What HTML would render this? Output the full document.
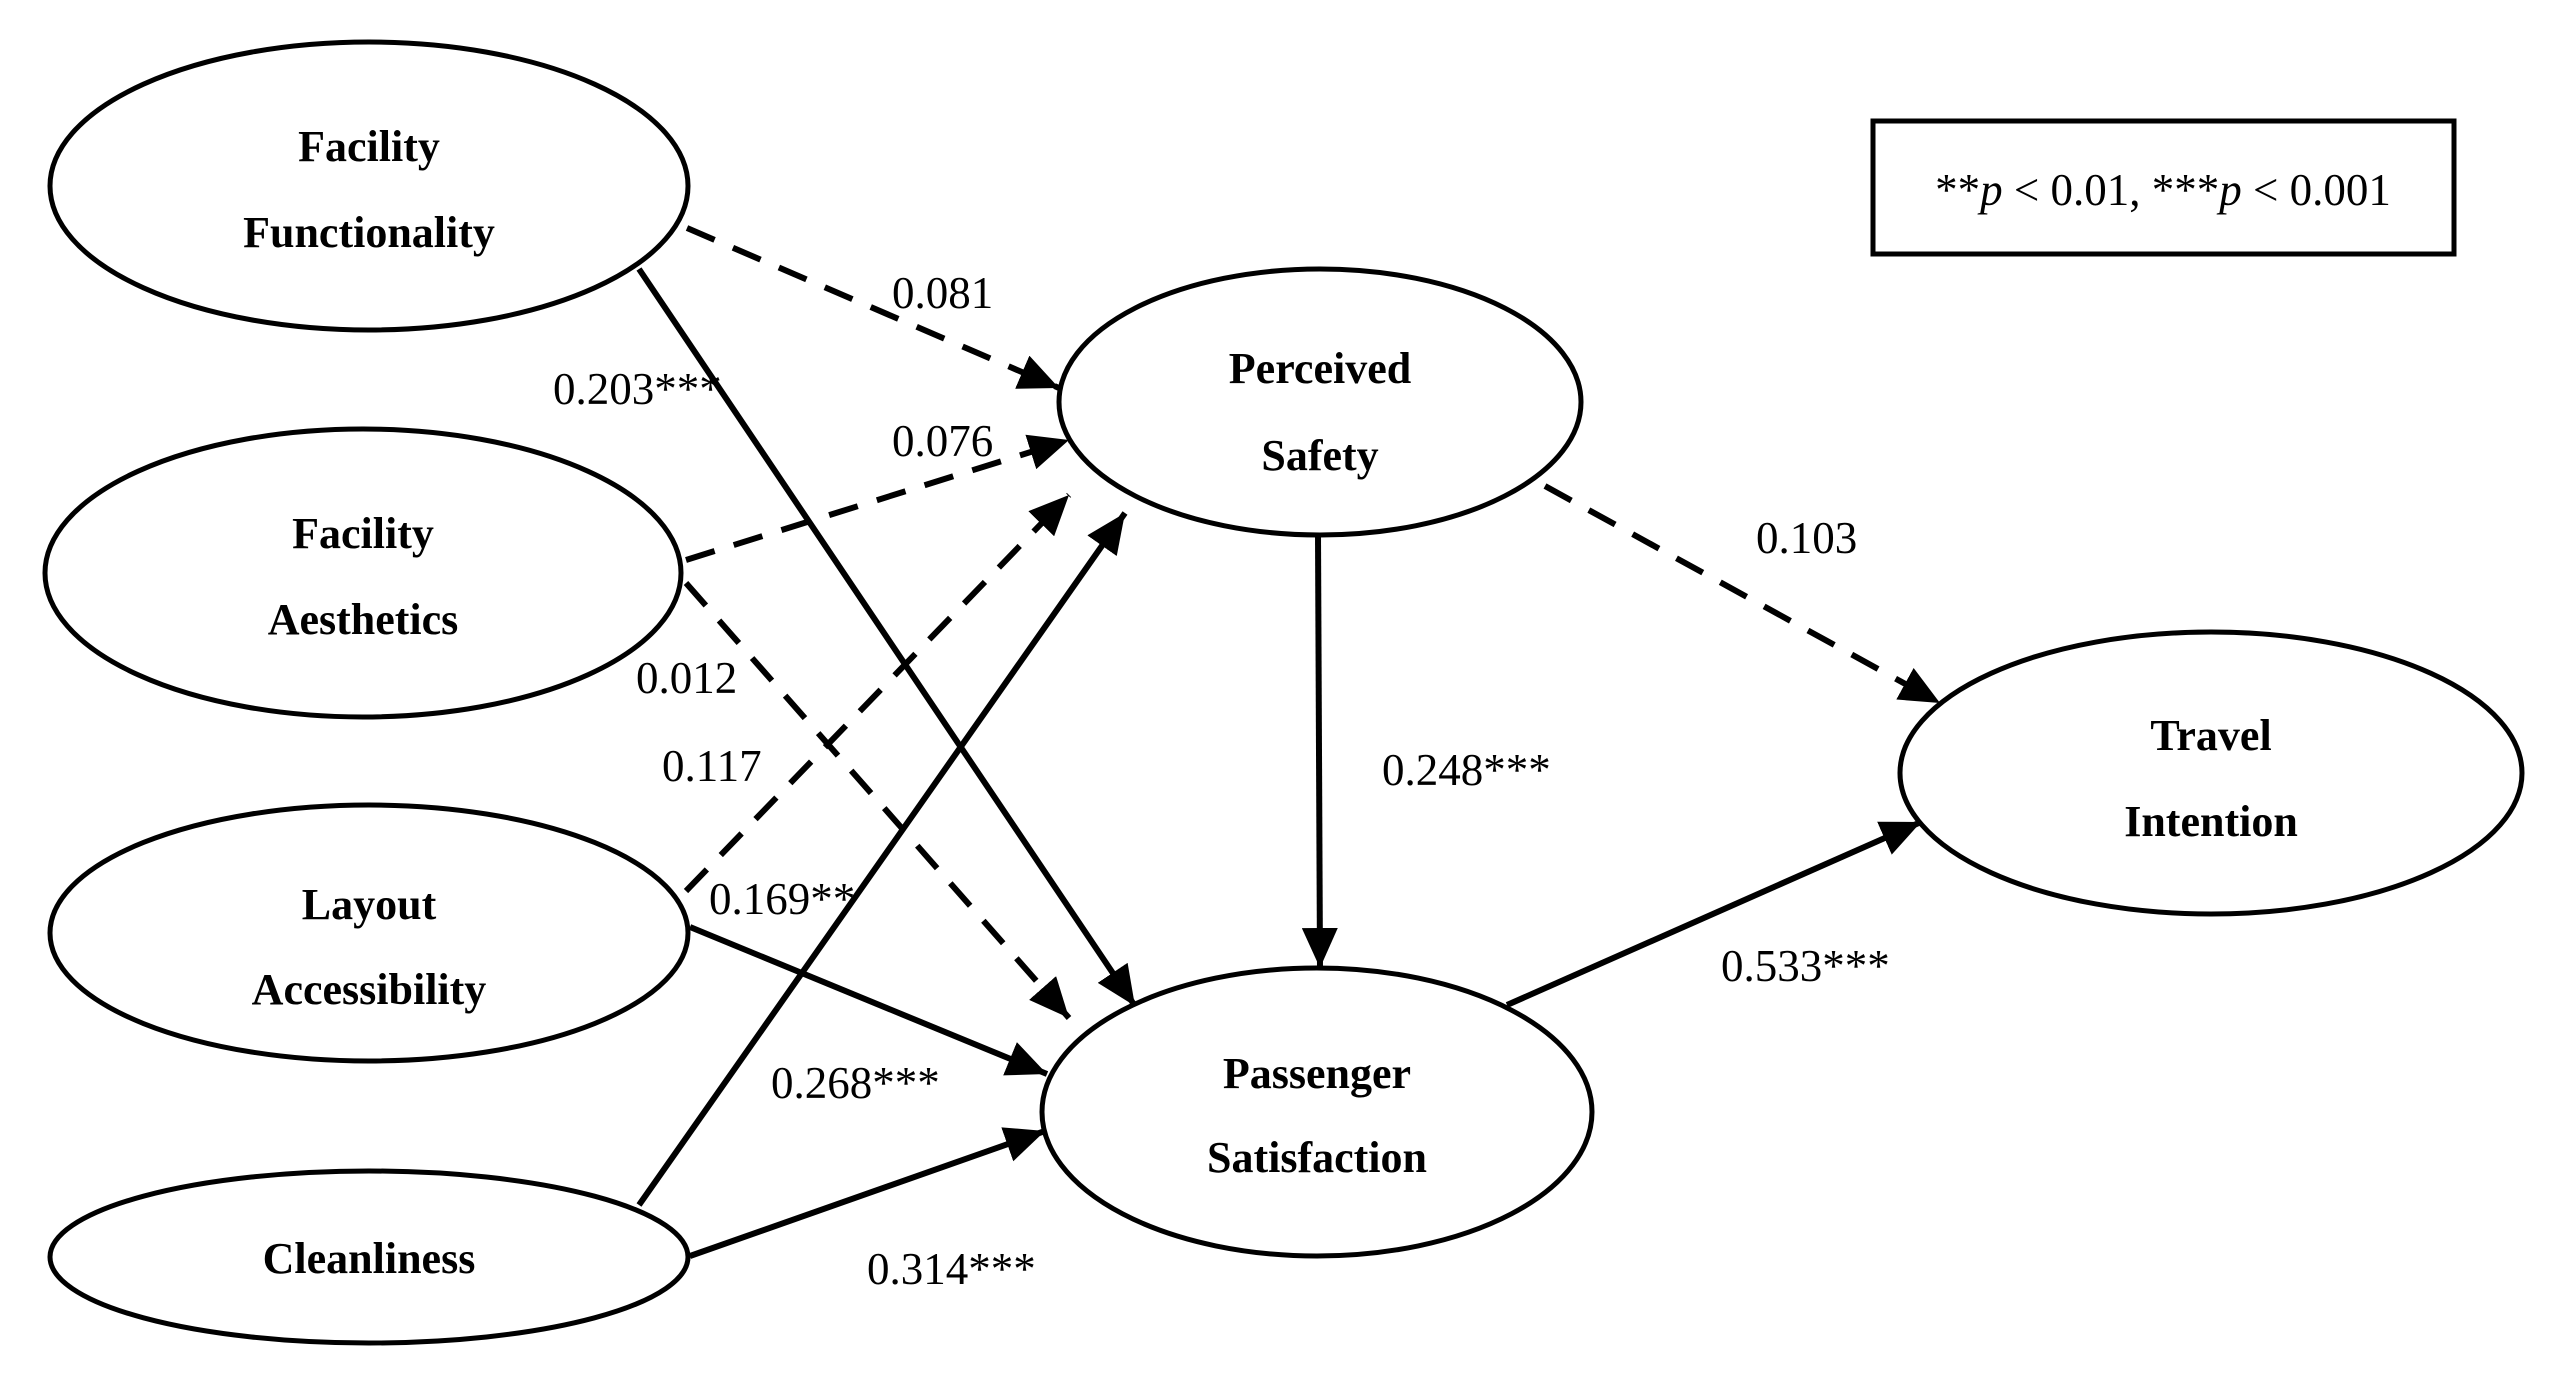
<!DOCTYPE html>
<html><head><meta charset="utf-8"><style>
html,body{margin:0;padding:0;background:#fff}
svg{display:block}
.n{font-family:"Liberation Serif",serif;font-weight:bold;font-size:44px;text-anchor:middle}
.l{font-family:"Liberation Serif",serif;font-size:45px}
</style></head><body>
<svg width="2560" height="1386" viewBox="0 0 2560 1386" xmlns="http://www.w3.org/2000/svg">
<defs>
<marker id="a" markerUnits="userSpaceOnUse" markerWidth="44" markerHeight="36" refX="40" refY="18" orient="auto">
<path d="M0,0 L40,18 L0,36 Z" fill="#000"/>
</marker>
</defs>
<g fill="none" stroke="#000" stroke-width="5">
<ellipse cx="369" cy="186" rx="319" ry="144"/>
<ellipse cx="363" cy="573" rx="318" ry="144"/>
<ellipse cx="369" cy="933" rx="319" ry="128"/>
<ellipse cx="369" cy="1257" rx="319" ry="86"/>
<ellipse cx="1320" cy="402" rx="261" ry="133"/>
<ellipse cx="1317" cy="1112" rx="275" ry="144"/>
<ellipse cx="2211" cy="773" rx="311" ry="141"/>
<rect x="1873" y="121" width="581" height="133"/>
</g>
<g stroke="#000" stroke-width="6" fill="none" marker-end="url(#a)">
<g stroke-dasharray="30,20">
<line x1="687" y1="228" x2="1059" y2="388"/>
<line x1="686" y1="560" x2="1069" y2="440"/>
<line x1="686" y1="891" x2="1069" y2="495"/>
<line x1="686" y1="583" x2="1069" y2="1018"/>
<line x1="1545" y1="486" x2="1940" y2="703"/>
</g>
<line x1="639" y1="269" x2="1135" y2="1006"/>
<line x1="639" y1="1205" x2="1125" y2="513"/>
<line x1="690" y1="927" x2="1047" y2="1074"/>
<line x1="690" y1="1256" x2="1045" y2="1131"/>
<line x1="1318" y1="535" x2="1320" y2="968"/>
<line x1="1507" y1="1005" x2="1921" y2="822"/>
</g>
<g class="n">
<text x="369" y="161">Facility</text>
<text x="369" y="247">Functionality</text>
<text x="363" y="548">Facility</text>
<text x="363" y="634">Aesthetics</text>
<text x="369" y="919">Layout</text>
<text x="369" y="1004">Accessibility</text>
<text x="369" y="1273">Cleanliness</text>
<text x="1320" y="383">Perceived</text>
<text x="1320" y="470">Safety</text>
<text x="1317" y="1088">Passenger</text>
<text x="1317" y="1172">Satisfaction</text>
<text x="2211" y="750">Travel</text>
<text x="2211" y="836">Intention</text>
</g>
<g class="l">
<text x="892" y="308">0.081</text>
<text x="553" y="404">0.203***</text>
<text x="892" y="456">0.076</text>
<text x="636" y="693">0.012</text>
<text x="662" y="781">0.117</text>
<text x="709" y="914">0.169**</text>
<text x="771" y="1098">0.268***</text>
<text x="867" y="1284">0.314***</text>
<text x="1382" y="785">0.248***</text>
<text x="1756" y="553">0.103</text>
<text x="1721" y="981">0.533***</text>
<text x="2163" y="205" text-anchor="middle">**<tspan font-style="italic">p</tspan> &lt; 0.01, ***<tspan font-style="italic">p</tspan> &lt; 0.001</text>
</g>
</svg>
</body></html>
